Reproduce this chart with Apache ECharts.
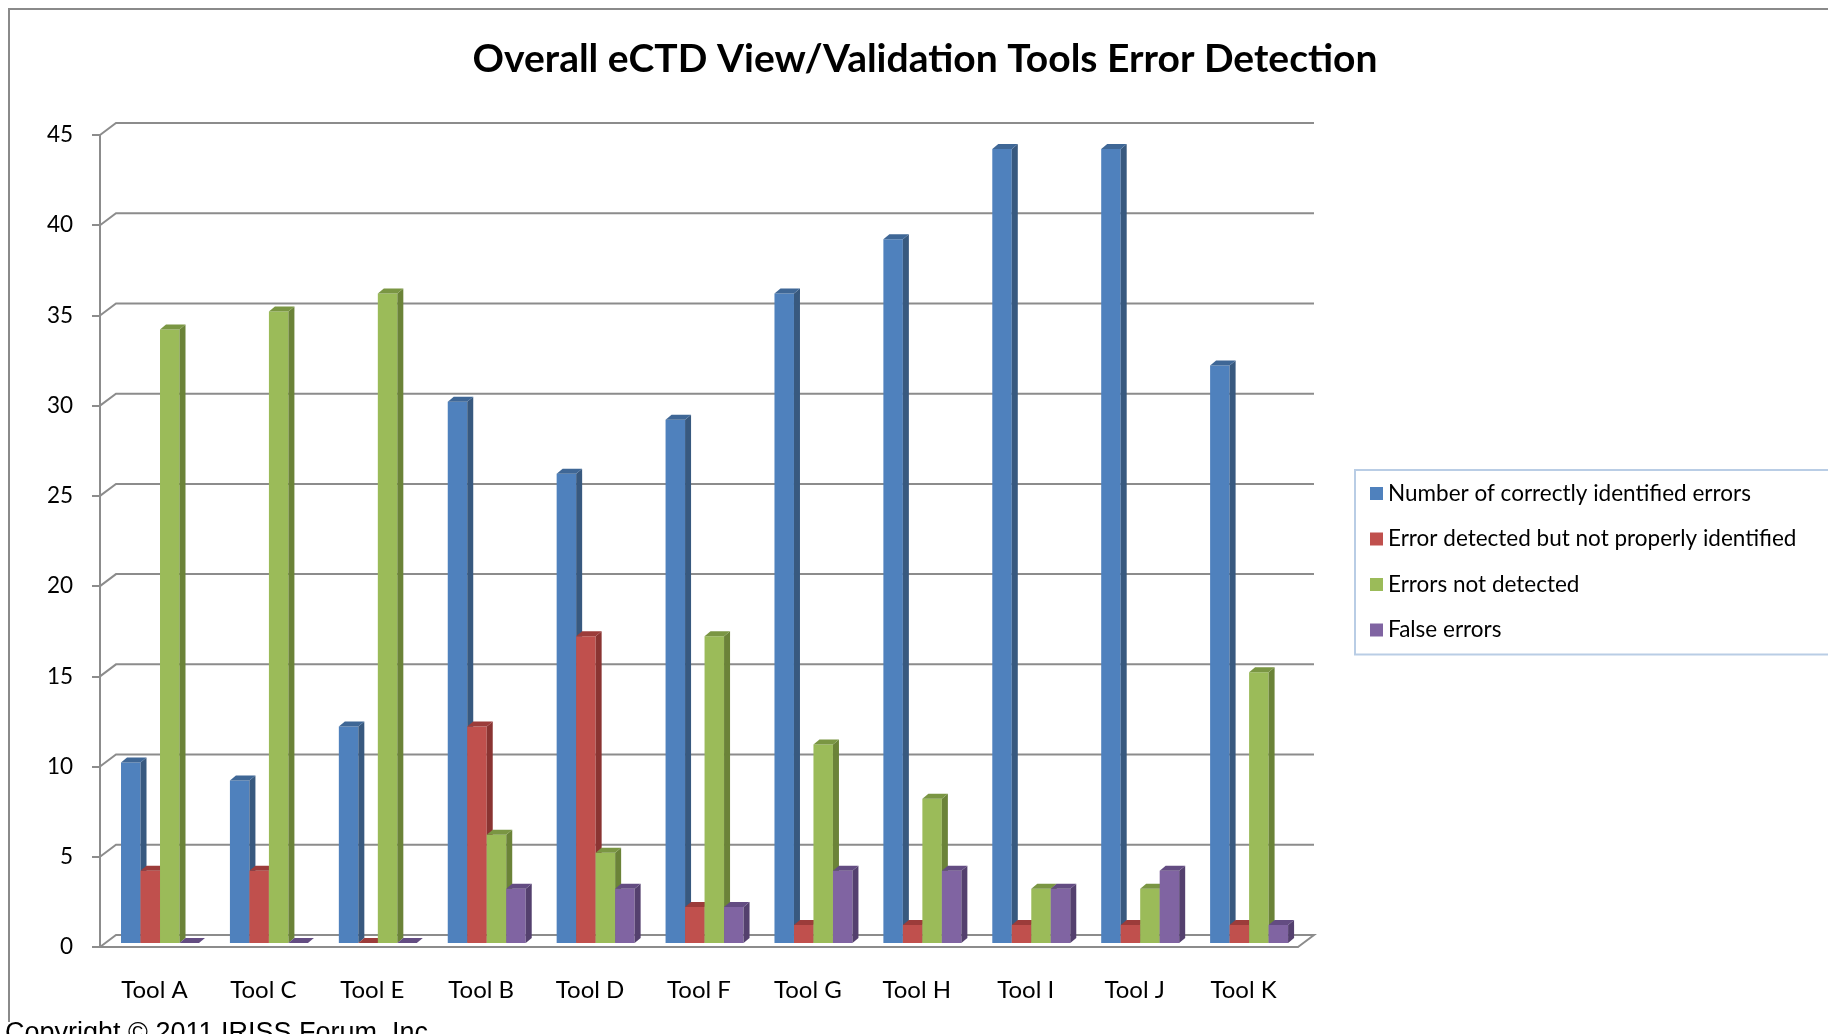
<!DOCTYPE html>
<html>
<head>
<meta charset="utf-8">
<script src="https://cdn.jsdelivr.net/npm/echarts@6/dist/echarts.min.js"></script>
<style>
  html, body { margin: 0; padding: 0; background: #fff; }
  #chart { width: 1828px; height: 1034px; }
</style>
</head>
<body>
<div id="chart"></div>
<script>
// data
var tools = ['Tool A', 'Tool C', 'Tool E', 'Tool B', 'Tool D', 'Tool F', 'Tool G', 'Tool H', 'Tool I', 'Tool J', 'Tool K'];
var seriesNames = ['Number of correctly identified errors', 'Error detected but not properly identified', 'Errors not detected', 'False errors'];
var correctlyIdentified = [10, 9, 12, 30, 26, 29, 36, 39, 44, 44, 32];
var notProperlyIdentified = [4, 4, 0, 12, 17, 2, 1, 1, 1, 1, 1];
var notDetected = [34, 35, 36, 6, 5, 17, 11, 8, 3, 3, 15];
var falseErrors = [0, 0, 0, 3, 3, 2, 4, 4, 3, 4, 1];
var yTicks = [0, 5, 10, 15, 20, 25, 30, 35, 40, 45];

var faceColors = ['#4F81BD', '#C0504D', '#9BBB59', '#8064A2'];
var sideColors = ['#38597f', '#8a3432', '#6b8338', '#54406e'];
var topColors = ['#3f6796', '#9c3c3a', '#7a9643', '#634c82'];

var chart = echarts.init(document.getElementById('chart'));

// back wall + floor, offset from the front axis plane
var WALL_DX = 16, WALL_DY = -12;
function renderWall(params, api) {
  var cs = params.coordSys;
  var v = api.value(1);
  var y = api.coord([0, v])[1];
  var x0 = cs.x, x1 = cs.x + cs.width;
  var pts = [[x0, y], [x0 + WALL_DX, y + WALL_DY], [x1 + WALL_DX, y + WALL_DY]];
  if (v === 0) pts.push([x1, y]);
  return {
    type: 'polyline',
    shape: { points: pts },
    style: { stroke: '#8c8c8c', lineWidth: 2, fill: null }
  };
}

// 3D-looking bar: front face, right side, top
var BAR_DX = 6, BAR_DY = -5, PLANE_DY = -4;
function makeBarRenderer(s) {
  return function (params, api) {
    var cat = api.value(0), val = api.value(1);
    var catW = api.size([1, 0])[0];
    var c = api.coord([cat, 0]);
    var yBot = c[1] + PLANE_DY;
    var yTop = api.coord([cat, val])[1] + PLANE_DY;
    var x0 = c[0] - catW / 2 + catW * 0.193 + s * catW * 0.179;
    var x1 = x0 + catW * 0.179;
    return {
      type: 'group',
      children: [
        { type: 'rect', shape: { x: x0, y: yTop, width: x1 - x0, height: yBot - yTop },
          style: { fill: faceColors[s] } },
        { type: 'polygon', shape: { points: [[x1, yTop], [x1 + BAR_DX, yTop + BAR_DY], [x1 + BAR_DX, yBot + BAR_DY], [x1, yBot]] },
          style: { fill: sideColors[s] } },
        { type: 'polygon', shape: { points: [[x0, yTop], [x0 + BAR_DX, yTop + BAR_DY], [x1 + BAR_DX, yTop + BAR_DY], [x1, yTop]] },
          style: { fill: topColors[s] } }
      ]
    };
  };
}

var seriesValues = [correctlyIdentified, notProperlyIdentified, notDetected, falseErrors];
var series = [{
  name: 'wall',
  type: 'custom',
  renderItem: renderWall,
  data: yTicks.map(function (v) { return [0, v]; }),
  z: 1,
  silent: true
}];
seriesValues.forEach(function (vals, s) {
  series.push({
    name: seriesNames[s],
    type: 'custom',
    renderItem: makeBarRenderer(s),
    itemStyle: { color: faceColors[s] },
    data: vals.map(function (v, i) { return [i, v]; }),
    z: 3
  });
});

var option = {
  animation: false,
  color: faceColors,
  title: {
    text: 'Overall eCTD View/Validation Tools Error Detection',
    left: 920,
    textAlign: 'center',
    top: 35,
    textStyle: { fontFamily: 'Lato', fontWeight: 'bold', fontSize: 39, color: '#000' }
  },
  legend: {
    data: seriesNames,
    orient: 'vertical',
    left: 1355,
    top: 470,
    padding: [12, 200, 13, 15],
    icon: 'rect',
    itemWidth: 13,
    itemHeight: 13,
    itemGap: 22.5,
    itemTextGap: 7,
    borderColor: '#b9cde5',
    borderWidth: 2,
    textStyle: { fontFamily: 'Lato', fontSize: 22.5, color: '#000', lineHeight: 21 }
  },
  grid: { left: 100, top: 135, right: 530, bottom: 87 },
  xAxis: {
    type: 'category',
    data: tools,
    axisLine: { lineStyle: { color: '#8c8c8c', width: 2 } },
    axisTick: { length: 8, lineStyle: { color: '#8c8c8c', width: 2 } },
    axisLabel: { fontFamily: 'Lato', fontSize: 24, color: '#000', margin: 31 }
  },
  yAxis: {
    type: 'value',
    min: 0,
    max: 45,
    interval: 5,
    axisLine: { show: true, lineStyle: { color: '#8c8c8c', width: 2 } },
    axisTick: { show: true, length: 8, lineStyle: { color: '#8c8c8c', width: 2 } },
    axisLabel: { fontFamily: 'Lato', fontSize: 22.5, color: '#000', margin: 27 },
    splitLine: { show: false }
  },
  graphic: [
    { type: 'polyline', shape: { points: [[9, 1022], [9, 9], [1828, 9]] },
      style: { stroke: '#8a8a8a', lineWidth: 2, fill: null } },
    { type: 'text', left: 5, top: 1020,
      style: { text: 'Copyright \u00a9 2011 IRISS Forum, Inc.', font: '27px "Liberation Sans"', fill: '#000' } }
  ],
  series: series
};

chart.setOption(option);
window.addEventListener('resize', function () { chart.resize(); });
</script>
</body>
</html>
